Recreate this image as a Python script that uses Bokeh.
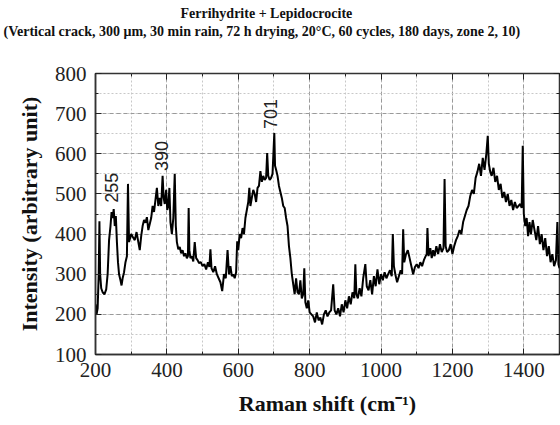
from bokeh.plotting import figure
from bokeh.models import Range1d, SingleIntervalTicker, LinearAxis, Label, ColumnDataSource, Title
from bokeh.embed import file_html
from bokeh.resources import INLINE
import math

# Raman spectrum (Raman shift in cm-1, intensity in arbitrary units)
raman_shift = [
    200, 203, 206, 209, 211, 213, 216, 220, 225, 230, 234, 238, 242, 245, 248, 251, 254, 257, 260, 263,
    266, 270, 273, 276, 280, 284, 288, 291, 294, 297, 300, 305, 310, 315, 320, 324, 328, 332, 336, 340,
    344, 348, 352, 356, 360, 364, 368, 372, 376, 380, 384, 388, 391, 394, 398, 401, 404, 407, 410, 414,
    418, 422, 425, 428, 432, 436, 440, 444, 448, 452, 456, 459, 461, 463, 466, 470, 474, 478, 482, 486,
    490, 495, 500, 505, 510, 515, 519, 522, 525, 530, 535, 540, 545, 550, 555, 560, 565, 570, 574, 578,
    582, 586, 590, 594, 597, 600, 604, 608, 612, 616, 620, 624, 628, 631, 634, 638, 642, 646, 650, 654,
    658, 662, 666, 670, 674, 678, 681, 684, 688, 692, 696, 701, 703, 706, 710, 714, 718, 722, 726, 730,
    734, 738, 742, 746, 750, 754, 758, 762, 766, 770, 774, 778, 782, 785, 788, 792, 796, 800, 805, 810,
    815, 820, 825, 830, 835, 840, 845, 850, 855, 860, 866, 870, 875, 880, 885, 890, 895, 900, 905, 910,
    915, 920, 925, 928, 931, 935, 940, 945, 950, 956, 960, 965, 970, 975, 980, 985, 990, 995, 1000, 1005,
    1010, 1015, 1020, 1025, 1030, 1033, 1036, 1040, 1045, 1050, 1055, 1059, 1062, 1065, 1070, 1075, 1080, 1085, 1090, 1095,
    1100, 1105, 1110, 1115, 1120, 1125, 1128, 1130, 1133, 1138, 1142, 1146, 1150, 1155, 1160, 1165, 1170, 1175, 1178, 1181,
    1185, 1190, 1195, 1200, 1205, 1210, 1215, 1220, 1225, 1230, 1235, 1240, 1245, 1250, 1255, 1260, 1265, 1270, 1275, 1280,
    1285, 1290, 1295, 1299, 1302, 1306, 1310, 1315, 1320, 1325, 1330, 1335, 1340, 1345, 1350, 1355, 1360, 1365, 1370, 1375,
    1380, 1385, 1390, 1394, 1397, 1400, 1404, 1408, 1412, 1416, 1420, 1425, 1430, 1435, 1440, 1445, 1450, 1455, 1460, 1465,
    1470, 1475, 1480, 1485, 1490, 1494, 1497, 1500,
]
intensity = [
    225, 200, 215, 300, 432, 300, 265, 255, 250, 262, 300, 385, 420, 455, 440, 462, 420, 445, 380, 330,
    300, 285, 272, 290, 305, 330, 345, 525, 380, 390, 400, 392, 385, 405, 380, 360, 395, 420, 435, 428,
    442, 410, 425, 440, 470, 455, 485, 515, 470, 490, 470, 545, 490, 475, 510, 460, 470, 515, 430, 400,
    440, 550, 420, 380, 362, 368, 352, 360, 345, 352, 340, 345, 465, 360, 340, 345, 332, 380, 340, 335,
    328, 330, 320, 325, 312, 330, 318, 362, 315, 305, 320, 300, 290, 280, 258, 300, 290, 360, 300, 320,
    295, 300, 290, 305, 382, 360, 400, 390, 415, 400, 440, 460, 480, 515, 470, 490, 510, 500, 480, 515,
    520, 557, 530, 545, 535, 540, 602, 545, 535, 540, 550, 652, 570, 560, 545, 520, 505, 490, 470, 465,
    440, 420, 370, 340, 300, 275, 250, 290, 255, 250, 285, 240, 250, 315, 230, 215, 235, 205, 200, 195,
    180, 205, 185, 192, 175, 200, 210, 195, 205, 210, 275, 210, 200, 215, 195, 225, 205, 235, 215, 245,
    225, 255, 240, 325, 250, 240, 265, 245, 290, 325, 270, 260, 285, 250, 295, 270, 312, 275, 300, 285,
    305, 290, 300, 310, 295, 400, 320, 300, 280, 295, 310, 300, 412, 330, 350, 360, 340, 320, 300, 318,
    325, 315, 330, 320, 335, 345, 350, 415, 345, 365, 340, 360, 345, 370, 350, 375, 355, 365, 537, 370,
    355, 360, 375, 350, 370, 385, 395, 410, 400, 430, 445, 460, 470, 495, 510, 500, 540, 555, 575, 545,
    590, 560, 600, 645, 575, 555, 545, 565, 530, 545, 510, 525, 490, 505, 480, 500, 470, 485, 460, 480,
    465, 470, 475, 465, 620, 450, 420, 440, 395, 430, 400, 435, 410, 385, 420, 375, 400, 360, 390, 345,
    370, 330, 350, 320, 335, 430, 325, 315,
]

# Peak annotations
peak_labels = ["255", "390", "701"]
peak_x = [245, 385, 691]
peak_y = [478, 557, 662]

title_line1 = "Ferrihydrite + Lepidocrocite"
title_line2 = "(Vertical crack, 300 \u03bcm, 30 min rain, 72 h drying, 20\u00b0C, 60 cycles, 180 days, zone 2, 10)"
x_label = "Raman shift (cm\u207b\u00b9)"
y_label = "Intensity (arbitrary unit)"

SERIF = "Liberation Serif"

p = figure(width=560, height=425, output_backend="svg", toolbar_location=None, title=None,
           x_range=Range1d(200, 1500), y_range=Range1d(100, 800),
           min_border_left=95, min_border_right=1, min_border_top=73, min_border_bottom=71)
p.background_fill_color = "white"
p.border_fill_color = "white"
p.outline_line_color = "#333333"
p.outline_line_width = 1.5

# axes
xt = SingleIntervalTicker(interval=200, num_minor_ticks=2)
yt = SingleIntervalTicker(interval=100, num_minor_ticks=2)
p.xaxis.ticker = xt
p.yaxis.ticker = yt
for ax in (p.xaxis[0], p.yaxis[0]):
    ax.major_tick_in = 6
    ax.major_tick_out = 0
    ax.minor_tick_in = 3
    ax.minor_tick_out = 0
    ax.major_tick_line_color = "#222222"
    ax.minor_tick_line_color = "#222222"
    ax.axis_line_color = "#333333"
    ax.axis_line_width = 1.5
    ax.major_label_text_font = SERIF
    ax.major_label_text_font_size = "21px"
    ax.major_label_text_color = "#222222"
    ax.axis_label_text_font = SERIF
    ax.axis_label_text_font_style = "bold"
    ax.axis_label_text_font_size = "22px"
    ax.axis_label_text_color = "#111111"
p.xaxis.axis_label = x_label
p.yaxis.axis_label = y_label
p.xaxis.major_label_standoff = 8
p.yaxis.major_label_standoff = 9
p.xaxis.axis_label_standoff = 11
p.yaxis.axis_label_standoff = 10

# tick-only axes on the top and right (labels not drawn)
for loc, tk in (("above", SingleIntervalTicker(interval=200, num_minor_ticks=2)),
                ("right", SingleIntervalTicker(interval=100, num_minor_ticks=2))):
    ax = LinearAxis(ticker=tk)
    ax.major_tick_in = 6
    ax.major_tick_out = 0
    ax.minor_tick_in = 3
    ax.minor_tick_out = 0
    ax.major_tick_line_color = "#222222"
    ax.minor_tick_line_color = "#222222"
    ax.axis_line_color = None
    ax.major_label_text_color = None
    ax.major_label_text_font_size = "1px"
    ax.major_label_standoff = 0
    p.add_layout(ax, loc)

# invisible spacer axis: keeps the title block clear of the frame
spacer = LinearAxis(ticker=SingleIntervalTicker(interval=200, num_minor_ticks=0))
spacer.major_tick_in = 0
spacer.major_tick_out = 34
spacer.minor_tick_in = 0
spacer.minor_tick_out = 0
spacer.major_tick_line_color = None
spacer.minor_tick_line_color = None
spacer.axis_line_color = None
spacer.major_label_text_color = None
spacer.major_label_text_font_size = "1px"
spacer.major_label_standoff = 0
p.add_layout(spacer, "above")

# two-line title
t2 = Title(text=title_line2, align="left", offset=-92, standoff=2,
           text_font=SERIF, text_font_style="bold", text_font_size="14px", text_color="#111111")
t1 = Title(text=title_line1, align="left", offset=85, standoff=0,
           text_font=SERIF, text_font_style="bold", text_font_size="14px", text_color="#111111")
p.add_layout(t2, "above")
p.add_layout(t1, "above")

# grids
p.xgrid.ticker = xt
p.ygrid.ticker = yt
for g in (p.xgrid[0], p.ygrid[0]):
    g.grid_line_color = "#9a9a9a"
    g.grid_line_dash = "4 3"
    g.grid_line_width = 1
    g.minor_grid_line_color = "#c8c8c8"
    g.minor_grid_line_dash = "2 2"
    g.minor_grid_line_width = 1

src = ColumnDataSource(dict(x=raman_shift, y=intensity))
p.line("x", "y", source=src, line_color="black", line_width=2)

for t, xv, yv in zip(peak_labels, peak_x, peak_y):
    p.add_layout(Label(x=xv, y=yv, text=t, angle=math.pi / 2, text_align="left",
                       text_baseline="middle", text_font="Liberation Sans",
                       text_font_size="18px", text_color="#222222"))

open("out.html", "w").write(file_html(p, INLINE))
